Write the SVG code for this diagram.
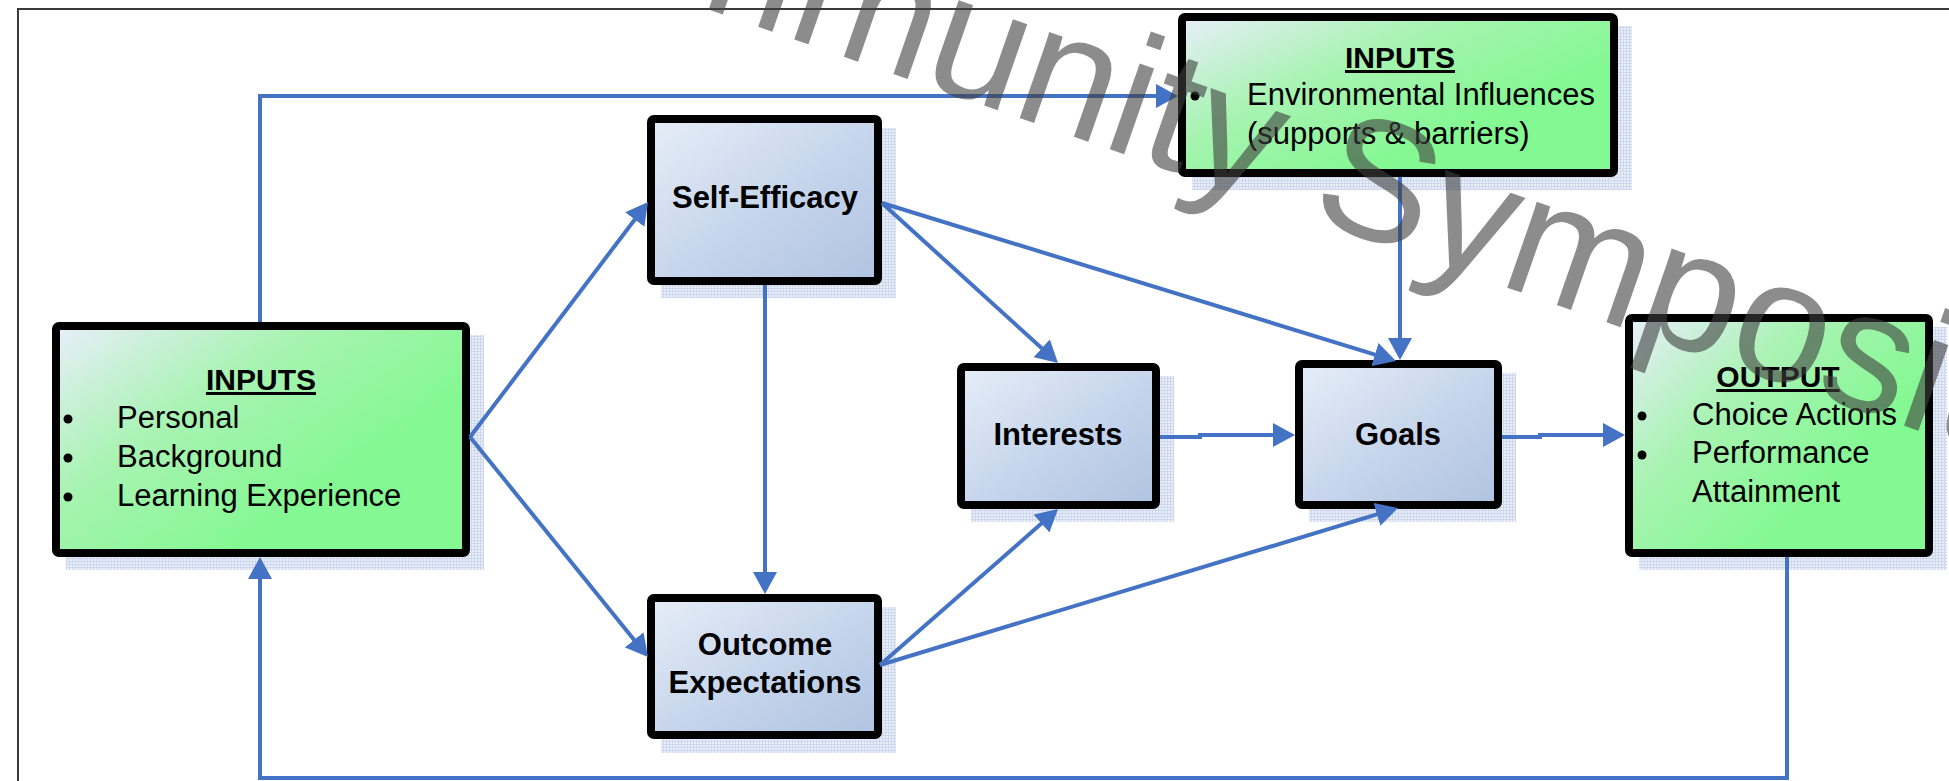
<svg xmlns="http://www.w3.org/2000/svg" width="1949" height="781" viewBox="0 0 1949 781">
<defs>
  <linearGradient id="gGreen" x1="0" y1="0" x2="0.75" y2="0.6">
    <stop offset="0" stop-color="#e8eefa"/>
    <stop offset="0.5" stop-color="#a8f3b2"/>
    <stop offset="1" stop-color="#84f892"/>
  </linearGradient>
  <linearGradient id="gBlue" x1="0" y1="0" x2="1" y2="1">
    <stop offset="0" stop-color="#e6edf7"/>
    <stop offset="0.6" stop-color="#c2d2ea"/>
    <stop offset="1" stop-color="#b0c3e1"/>
  </linearGradient>
  <pattern id="shadowPat" width="3" height="3" patternUnits="userSpaceOnUse">
    <rect width="3" height="3" fill="#e9eef8"/>
    <path d="M0,0.5 H3 M0.5,0 V3" stroke="#cdd8ee" stroke-width="1"/>
  </pattern>
  <marker id="ah" markerUnits="userSpaceOnUse" markerWidth="22" markerHeight="24" refX="12" refY="12" orient="auto">
    <path d="M0,0 L22,12 L0,24 z" fill="#4472C4"/>
  </marker>
  <style>
    .shadow { fill: url(#shadowPat); }
    .gbox { fill: url(#gGreen); stroke: #000; stroke-width: 8; }
    .bbox { fill: url(#gBlue); stroke: #000; stroke-width: 8; }
    .t { font-family: "Liberation Sans", Arial, sans-serif; fill: #000; }
    .head { font-size: 30px; font-weight: bold; text-anchor: middle; text-decoration: underline; }
    .item { font-size: 31px; }
    .lbl { font-size: 31px; font-weight: bold; text-anchor: middle; }
    .conn { fill: none; stroke: #4472C4; stroke-width: 4; marker-end: url(#ah); }
    .frame { stroke: #3a3a3a; stroke-width: 2; fill: none; }
  </style>
</defs>
<rect width="1949" height="781" fill="#ffffff"/>
<path class="frame" d="M18,781 V9 H1949"/>

<g id="node-inputs-personal">
  <rect class="shadow" x="66" y="335" width="418" height="235"/>
  <rect class="gbox" x="56" y="326" width="410" height="227" rx="3"/>
  <text class="t head" x="261" y="390">INPUTS</text>
  <circle cx="68" cy="419" r="4.5"/>
  <circle cx="68" cy="458" r="4.5"/>
  <circle cx="68" cy="497" r="4.5"/>
  <text class="t item" x="117" y="428">Personal</text>
  <text class="t item" x="117" y="467">Background</text>
  <text class="t item" x="117" y="506">Learning Experience</text>
</g>

<g id="node-self-efficacy">
  <rect class="shadow" x="661" y="128" width="235" height="170"/>
  <rect class="bbox" x="651" y="119" width="227" height="162" rx="3"/>
  <text class="t lbl" x="765" y="208">Self-Efficacy</text>
</g>

<g id="node-outcome-expectations">
  <rect class="shadow" x="661" y="607" width="235" height="146"/>
  <rect class="bbox" x="651" y="598" width="227" height="137" rx="3"/>
  <text class="t lbl" x="765" y="655">Outcome</text>
  <text class="t lbl" x="765" y="693">Expectations</text>
</g>

<g id="node-interests">
  <rect class="shadow" x="971" y="376" width="203" height="146"/>
  <rect class="bbox" x="961" y="367" width="195" height="138" rx="3"/>
  <text class="t lbl" x="1058" y="445">Interests</text>
</g>

<g id="node-goals">
  <rect class="shadow" x="1309" y="373" width="207" height="149"/>
  <rect class="bbox" x="1299" y="364" width="199" height="141" rx="3"/>
  <text class="t lbl" x="1398" y="445">Goals</text>
</g>

<g id="node-inputs-environment">
  <rect class="shadow" x="1192" y="26" width="440" height="164"/>
  <rect class="gbox" x="1182" y="17" width="432" height="156" rx="3"/>
  <text class="t head" x="1400" y="68">INPUTS</text>
  <circle cx="1195" cy="96" r="4.5"/>
  <text class="t item" x="1247" y="105">Environmental Influences</text>
  <text class="t item" x="1247" y="144">(supports &amp; barriers)</text>
</g>

<g id="node-output">
  <rect class="shadow" x="1639" y="327" width="308" height="243"/>
  <rect class="gbox" x="1629" y="318" width="300" height="235" rx="3"/>
  <text class="t head" x="1778" y="387">OUTPUT</text>
  <circle cx="1642" cy="416" r="4.5"/>
  <circle cx="1642" cy="455" r="4.5"/>
  <text class="t item" x="1692" y="425">Choice Actions</text>
  <text class="t item" x="1692" y="463">Performance</text>
  <text class="t item" x="1692" y="502">Attainment</text>
</g>

<g id="connectors">
  <path class="conn" d="M260,322 V96 H1168"/>
  <path class="conn" d="M470,437 L642,210"/>
  <path class="conn" d="M470,437 L641.7,649.2"/>
  <path class="conn" d="M765,285 V584"/>
  <path class="conn" d="M882,203 L1050.6,356.3"/>
  <path class="conn" d="M882,203 L1386.4,358.1"/>
  <path class="conn" d="M1400,177 V350"/>
  <path class="conn" d="M880,665 L1050.5,515.6"/>
  <path class="conn" d="M880,665 L1388.4,510.9"/>
  <path class="conn" d="M1160,437 H1200 V435 H1285"/>
  <path class="conn" d="M1502,437 H1540 V435 H1615"/>
  <path class="conn" d="M1787,557 V778 H260 V567"/>
</g>

<g id="watermark">
  <text x="0" y="0" transform="translate(440,-84) rotate(19.2)" font-family="Liberation Sans, Arial, sans-serif" font-size="172" fill="#404040" fill-opacity="0.6">Community Symposium</text>
</g>
</svg>
